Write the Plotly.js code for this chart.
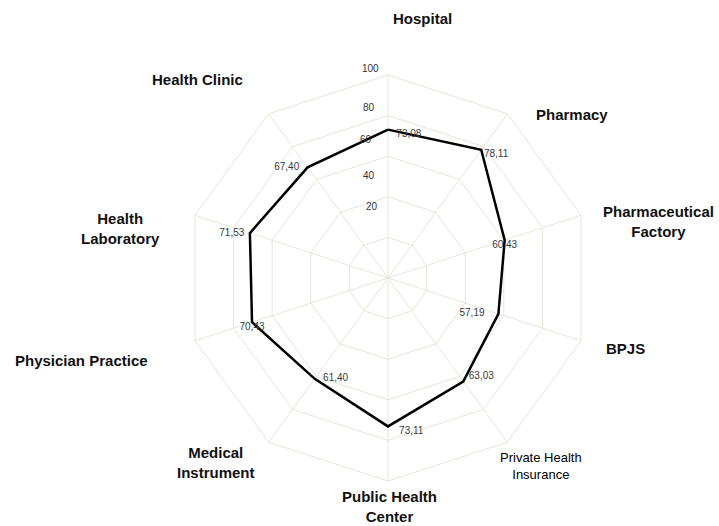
<!DOCTYPE html>
<html>
<head>
<meta charset="utf-8">
<script src="https://cdn.plot.ly/plotly-3.0.1.min.js"></script>
<style>html,body{margin:0;padding:0;background:#fff;}#chart{width:719px;height:526px;}</style>
</head>
<body>
<div id="chart"></div>
<script>
// ---- data ----
const categories = ["Hospital", "Pharmacy", "Pharmaceutical Factory", "BPJS", "Private Health Insurance",
  "Public Health Center", "Medical Instrument", "Physician Practice", "Health Laboratory", "Health Clinic"];
const categoryLabels = ["Hospital", "Pharmacy", "Pharmaceutical<br>Factory", "BPJS", "Private Health<br>Insurance",
  "Public Health<br>Center", "Medical<br>Instrument", "Physician Practice", "Health<br>Laboratory", "Health Clinic"];
const values = [73.08, 78.11, 60.43, 57.19, 63.03, 73.11, 61.40, 70.43, 71.53, 67.40];
const radialTicks = [20, 40, 60, 80, 100];

// ---- layout helpers ----
const W = 719, H = 526;
const M = {l: 185, r: 128, t: 75, b: 45};
const PW = W - M.l - M.r, PH = H - M.t - M.b;
const px = x => (x - M.l) / PW;
const py = y => (H - M.b - y) / PH;

const labelPos = [[422,19],[572,114],[658,221],[625,348],[541,466],[389,506],[216,462],[82,360],[120,228],[197,79]];
const labelPlain = [false,false,false,false,true,false,false,false,false,false];
const tickPos = [[372,206],[369,175],[366,139],[369,108],[370,69]];
const valuePos = ["bottom right","bottom right","bottom center","middle left","top right",
  "bottom right","middle right","bottom center","middle left","middle left"];
const padL = [3,1,0,0,2,4,3,0,0,0];   // non-breaking spaces before label
const padR = [0,0,0,5,0,0,0,0,2,3];   // non-breaking spaces after label

const fmt = v => v.toFixed(2).replace('.', ',');
const nb = n => '\u00a0'.repeat(n);

const theta = categories.concat([categories[0]]);
const rClosed = values.concat([values[0]]);

const traces = [
  {
    type: 'scatterpolar', mode: 'lines',
    r: rClosed, theta: theta,
    line: {color: '#000', width: 2.5},
    hoverinfo: 'skip', showlegend: false
  },
  {
    type: 'scatterpolar', mode: 'text',
    r: values, theta: categories,
    text: values.map((v, i) => nb(padL[i]) + fmt(v) + nb(padR[i])),
    textposition: valuePos,
    textfont: {family: 'Liberation Sans, Arial, sans-serif', size: 10, color: '#3a3a3a'},
    cliponaxis: false,
    hoverinfo: 'skip', showlegend: false
  }
];

const gridColor = '#e8e5db';
const annotations = [];
categoryLabels.forEach((t, i) => {
  annotations.push({
    xref: 'paper', yref: 'paper', x: px(labelPos[i][0]), y: py(labelPos[i][1]),
    xanchor: 'center', yanchor: 'middle', showarrow: false, align: 'center',
    text: labelPlain[i] ? t : '<b>' + t + '</b>',
    font: labelPlain[i]
      ? {family: 'Liberation Sans, Arial, sans-serif', size: 13, color: '#000'}
      : {family: 'Liberation Sans, Arial, sans-serif', size: 15, color: '#111'}
  });
});
radialTicks.forEach((v, i) => {
  annotations.push({
    xref: 'paper', yref: 'paper', x: px(tickPos[i][0]), y: py(tickPos[i][1]),
    xanchor: 'center', yanchor: 'middle', showarrow: false,
    text: String(v),
    font: {family: 'Liberation Sans, Arial, sans-serif', size: 10, color: '#333'}
  });
});

const layout = {
  width: W, height: H,
  margin: M,
  paper_bgcolor: '#fff', plot_bgcolor: '#fff',
  showlegend: false,
  polar: {
    domain: {x: [0, 1], y: [0, 1]},
    bgcolor: 'rgba(0,0,0,0)',
    gridshape: 'linear',
    radialaxis: {
      range: [0, 100], tickvals: radialTicks, showticklabels: false, ticks: '',
      showline: false, gridcolor: gridColor, gridwidth: 1, angle: 90
    },
    angularaxis: {
      type: 'category', categoryorder: 'array', categoryarray: categories,
      rotation: 90, direction: 'clockwise',
      showticklabels: false, ticks: '',
      showline: true, linecolor: gridColor, linewidth: 1,
      gridcolor: gridColor, gridwidth: 1
    }
  },
  annotations: annotations
};

Plotly.newPlot('chart', traces, layout, {displayModeBar: false, staticPlot: true});
</script>
</body>
</html>
